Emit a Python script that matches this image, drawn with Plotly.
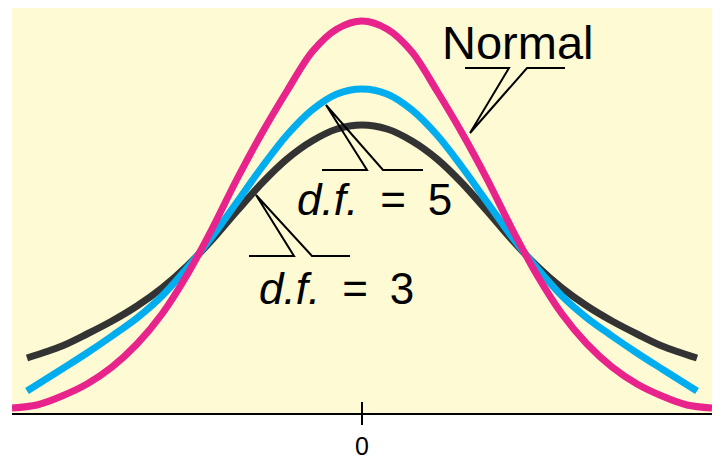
import plotly.graph_objects as go

# ---- data (x in sd units, y in density-like units) ----
x_normal = [-3.5, -3.25, -3.0, -2.75, -2.5, -2.25, -2.0, -1.75, -1.5, -1.25, -1.0, -0.75, -0.5, -0.25, 0.0,
            0.25, 0.5, 0.75, 1.0, 1.25, 1.5, 1.75, 2.0, 2.25, 2.5, 2.75, 3.0, 3.25, 3.5]
y_normal = [0.005, 0.008, 0.017, 0.029, 0.046, 0.069, 0.099, 0.138, 0.184, 0.234, 0.280, 0.322, 0.361, 0.384, 0.392,
            0.384, 0.361, 0.322, 0.280, 0.234, 0.184, 0.138, 0.099, 0.069, 0.046, 0.029, 0.017, 0.008, 0.005]

x_t = [-3.35, -3.0, -2.75, -2.5, -2.25, -2.0, -1.75, -1.5, -1.25, -1.0, -0.75, -0.5, -0.25, 0.0,
       0.25, 0.5, 0.75, 1.0, 1.25, 1.5, 1.75, 2.0, 2.25, 2.5, 2.75, 3.0, 3.35]
y_df5 = [0.022, 0.044, 0.060, 0.077, 0.095, 0.117, 0.145, 0.176, 0.211, 0.246, 0.278, 0.303, 0.319, 0.324,
         0.319, 0.303, 0.278, 0.246, 0.211, 0.176, 0.145, 0.117, 0.095, 0.077, 0.060, 0.044, 0.022]
y_df3 = [0.055, 0.067, 0.079, 0.092, 0.107, 0.125, 0.147, 0.173, 0.202, 0.230, 0.254, 0.272, 0.284, 0.288,
         0.284, 0.272, 0.254, 0.230, 0.202, 0.173, 0.147, 0.125, 0.107, 0.092, 0.079, 0.067, 0.055]

tick_vals = [0]
tick_text = ["0"]

PINK = "#E8248C"
CYAN = "#00AEEF"
DARK = "#333333"
BG = "#FEFAD4"

fig = go.Figure()
fig.add_trace(go.Scatter(x=x_t, y=y_df3, mode="lines", name="d.f. = 3",
                         line=dict(color=DARK, width=7, shape="spline", smoothing=0.9)))
fig.add_trace(go.Scatter(x=x_t, y=y_df5, mode="lines", name="d.f. = 5",
                         line=dict(color=CYAN, width=7, shape="spline", smoothing=0.9)))
fig.add_trace(go.Scatter(x=x_normal, y=y_normal, mode="lines", name="Normal",
                         line=dict(color=PINK, width=7, shape="spline", smoothing=0.9)))

callout = dict(type="path", xref="x", yref="y", line=dict(color="black", width=2))
shapes = [
    dict(callout, path="M 1.03,0.345 L 1.47,0.345 L 1.08,0.280 L 1.65,0.345 L 2.03,0.345"),
    dict(callout, path="M -0.40,0.243 L 0.05,0.243 L -0.36,0.308 L 0.21,0.243 L 0.61,0.243"),
    dict(callout, path="M -1.13,0.157 L -0.68,0.157 L -1.06,0.218 L -0.50,0.157 L -0.12,0.157"),
    # inner half of the crossing tick at 0
    dict(type="line", xref="x", yref="y", x0=0, x1=0, y0=0, y1=11, ysizemode="pixel", yanchor=0,
         line=dict(color="black", width=2)),
]

FONT = "Liberation Sans, Arial, sans-serif"
annotations = [
    dict(x=1.555, y=0.371, text="Normal", showarrow=False, xanchor="center", yanchor="middle",
         font=dict(family=FONT, size=47, color="black")),
    dict(x=0.125, y=0.214, text="<i>d.f.</i>\u2002=\u20025", showarrow=False, xanchor="center", yanchor="middle",
         font=dict(family=FONT, size=44, color="black")),
    dict(x=-0.255, y=0.125, text="<i>d.f.</i>\u2002=\u20023", showarrow=False, xanchor="center", yanchor="middle",
         font=dict(family=FONT, size=44, color="black")),
]

# the page body has an 8px default margin, so the figure is sized/offset to compensate
fig.update_layout(
    width=715, height=453,
    margin=dict(l=4, r=11, t=0, b=48),
    paper_bgcolor="white", plot_bgcolor=BG,
    showlegend=False,
    shapes=shapes, annotations=annotations,
    xaxis=dict(range=[-3.5, 3.5], showgrid=False, zeroline=False, showline=True,
               linecolor="black", linewidth=2, tickvals=tick_vals, ticktext=tick_text,
               ticks="outside", ticklen=10, tickwidth=2, tickcolor="black",
               tickfont=dict(family=FONT, size=25, color="black"), fixedrange=True),
    yaxis=dict(range=[0, 0.405], visible=False, fixedrange=True),
)

fig.write_html("out.html")
